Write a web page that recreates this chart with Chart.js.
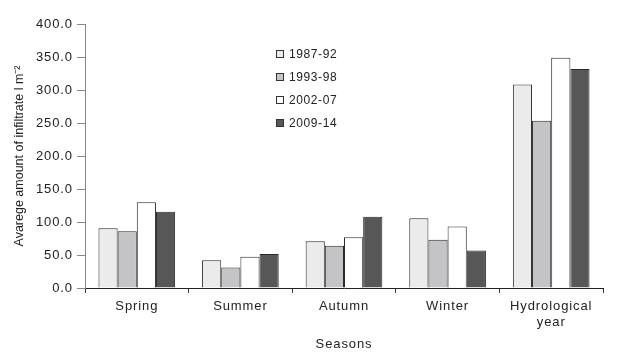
<!DOCTYPE html>
<html>
<head>
<meta charset="utf-8">
<script src="https://cdn.jsdelivr.net/npm/chart.js@4"></script>
<style>
  html, body { margin: 0; padding: 0; background: #fff; }
  #wrap { width: 619px; height: 352px; }
</style>
</head>
<body>
<div id="wrap"><canvas id="myChart"></canvas></div>
<script>
// seasonal infiltrate data
var seasons = ['Spring', 'Summer', 'Autumn', 'Winter', ['Hydrological', 'year']];
var periods = ['1987-92', '1993-98', '2002-07', '2009-14'];

var p1987 = [90.5, 42, 71, 105.5, 308.5];
var p1993 = [86, 31, 64, 73, 253.5];
var p2002 = [130, 47.5, 77, 93, 349];
var p2009 = [115.5, 51.5, 108, 57, 332];

var yTicks = [0, 50, 100, 150, 200, 250, 300, 350, 400];

var fills = ['#ebebeb', '#c4c4c6', '#ffffff', '#575757'];

Chart.defaults.font.family = '"Liberation Sans", Arial, sans-serif';
Chart.defaults.font.size = 13;
Chart.defaults.color = '#222';

var allSeries = [p1987, p1993, p2002, p2009];

// the original tick text is a bit spread out, the y title is not
var spacing = {
  id: 'spacing',
  beforeUpdate: function (chart) { chart.ctx.letterSpacing = '0.9px'; },
  beforeDraw: function (chart) {
    chart.ctx.letterSpacing = '0.9px';
    var ys = chart.scales.y;
    if (ys && !ys._wrapped) {
      var orig = ys.drawTitle;
      ys.drawTitle = function () {
        var c = this.ctx;
        var old = c.letterSpacing;
        c.letterSpacing = '0px';
        orig.apply(this, arguments);
        c.letterSpacing = old;
      };
      ys._wrapped = true;
    }
  }
};

// legend drawn inside the plot, stacked
var boxLegend = {
  id: 'boxLegend',
  afterDraw: function (chart) {
    var c = chart.ctx;
    c.save();
    c.letterSpacing = '0.6px';
    c.font = '12px "Liberation Sans", Arial, sans-serif';
    c.textBaseline = 'middle';
    chart.data.datasets.forEach(function (ds, i) {
      var y = 54 + i * 23;
      c.fillStyle = ds.backgroundColor;
      c.fillRect(276.5, y - 3.5, 7, 7);
      c.strokeStyle = '#333';
      c.lineWidth = 1;
      c.strokeRect(276.5, y - 3.5, 7, 7);
      c.fillStyle = '#222';
      c.fillText(ds.label, 289, y + 1);
    });
    c.restore();
  }
};

var ctx = document.getElementById('myChart');

var myChart = new Chart(ctx, {
  type: 'bar',
  data: {
    labels: seasons,
    datasets: periods.map(function (p, i) {
      return {
        label: p,
        data: allSeries[i],
        backgroundColor: fills[i],
        borderColor: '#2a2a2a',
        borderWidth: 1,
        barPercentage: 1,
        categoryPercentage: 0.74
      };
    })
  },
  options: {
    responsive: true,
    maintainAspectRatio: false,
    animation: false,
    layout: { padding: { left: 12, top: 24, right: 16, bottom: 0 } },
    plugins: {
      legend: { display: false },
      tooltip: { enabled: false }
    },
    scales: {
      x: {
        afterFit: function (s) { s.height = 64; },
        grid: {
          offset: true,
          drawOnChartArea: false,
          tickLength: 5,
          color: '#333'
        },
        border: { color: '#222' },
        ticks: { padding: 6, color: '#222', maxRotation: 0 },
        title: {
          display: true,
          text: 'Seasons',
          color: '#222',
          padding: { top: 2, bottom: 0 }
        }
      },
      y: {
        min: 0,
        max: 400,
        afterFit: function (s) { s.width = 73; },
        afterBuildTicks: function (s) {
          s.ticks = yTicks.map(function (v) { return { value: v }; });
        },
        grid: {
          drawOnChartArea: false,
          tickLength: 8,
          color: '#888'
        },
        border: { color: '#888' },
        ticks: {
          padding: 4,
          color: '#222',
          callback: function (v) { return Number(v).toFixed(1); }
        },
        title: {
          display: true,
          text: 'Avarege amount of infiltrate l m\u207B\u00B2',
          color: '#222',
          font: { size: 12.5 },
          padding: { top: 0, bottom: 4 }
        }
      }
    }
  },
  plugins: [spacing, boxLegend]
});
</script>
</body>
</html>
